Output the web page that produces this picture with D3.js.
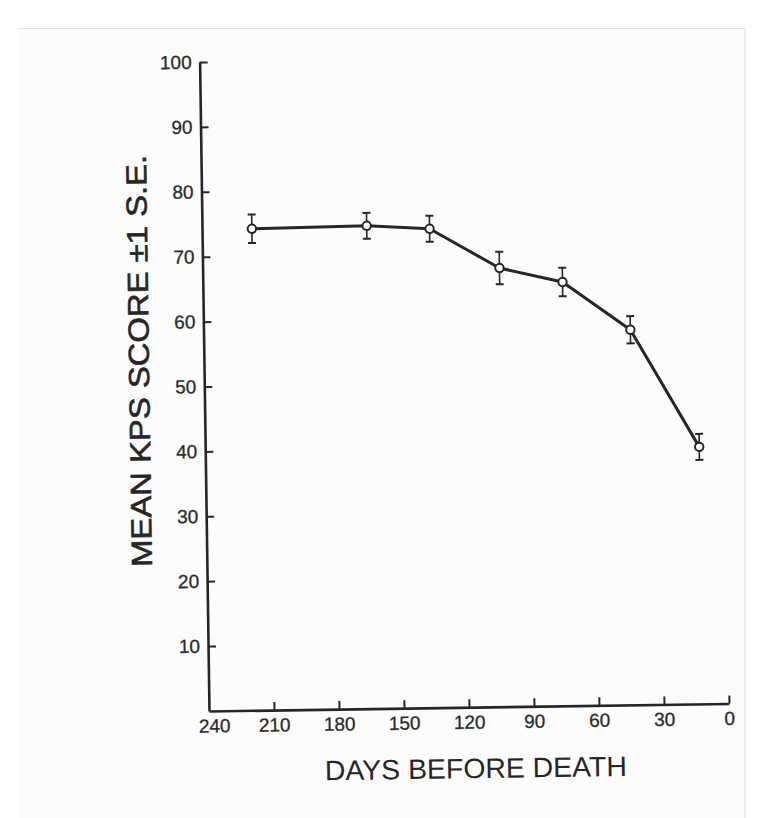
<!DOCTYPE html>
<html>
<head>
<meta charset="utf-8">
<script src="https://cdn.jsdelivr.net/npm/d3@7"></script>
<style>
  html, body { margin: 0; padding: 0; background: #ffffff; }
  svg { display: block; }
  .tick text { font-family: "Liberation Sans", Arial, sans-serif; font-size: 19px; fill: #2b2b2b; stroke: #2b2b2b; stroke-width: 0.3px; }
</style>
</head>
<body>
<div id="chart"></div>
<script>
// Mean KPS score by days before death, with ±1 S.E. bars
const daysBeforeDeath = [217, 164, 135, 103, 74, 43, 12];
const meanKps        = [74.2, 74.4, 73.8, 67.6, 65.3, 57.8, 39.6];
const stdError       = [2.2, 2.0, 2.0, 2.5, 2.2, 2.1, 2.0];
const xTicks = [240, 210, 180, 150, 120, 90, 60, 30, 0];
const yTicks = [10, 20, 30, 40, 50, 60, 70, 80, 90, 100];
const xTitle = "DAYS BEFORE DEATH";
const yTitle = "MEAN KPS SCORE \u00B11 S.E.";

const W = 768, H = 818;
const x0 = 209, x1 = 729, yBase = 711, yTop = 62;
const ink = "#262626";

const svg = d3.select("#chart").append("svg")
  .attr("width", W).attr("height", H);

// faint sheet: light paper with top and right edges
svg.append("rect").attr("x", 18).attr("y", 28).attr("width", 727).attr("height", 790)
  .attr("fill", "#fcfcfc");
svg.append("path").attr("d", "M18,28.5H745V818")
  .attr("fill", "none").attr("stroke", "#e2e2e2").attr("stroke-width", 1.2);

// the whole plate sits slightly tilted
const g = svg.append("g").attr("transform", `rotate(-0.83, ${x0}, ${yBase})`);

const x = d3.scaleLinear().domain([240, 0]).range([x0, x1]);
const y = d3.scaleLinear().domain([0, 100]).range([yBase, yTop]);

// y axis, ticks pointing into the plot
const yAxis = g.append("g").attr("transform", `translate(${x0},0)`)
  .call(d3.axisLeft(y).tickValues(yTicks).tickSizeInner(-8).tickSizeOuter(0).tickPadding(8));
yAxis.select(".domain").attr("stroke", ink).attr("stroke-width", 2.6);
yAxis.selectAll(".tick line").attr("stroke", ink).attr("stroke-width", 2);

// x axis, ticks pointing up
const xAxis = g.append("g").attr("transform", `translate(0,${yBase})`)
  .call(d3.axisBottom(x).tickValues(xTicks).tickSizeInner(-8).tickSizeOuter(0).tickPadding(8));
xAxis.select(".domain").attr("stroke", ink).attr("stroke-width", 2.6);
xAxis.selectAll(".tick line").attr("stroke", ink).attr("stroke-width", 2)
  .attr("display", d => d === 240 ? "none" : null);
xAxis.selectAll(".tick text").attr("dx", d => d === 240 ? 5 : 0);

const pts = daysBeforeDeath.map((d, i) => ({ d, v: meanKps[i], se: stdError[i] }));

// connecting line
g.append("path").datum(pts)
  .attr("fill", "none").attr("stroke", ink).attr("stroke-width", 3)
  .attr("stroke-linejoin", "round")
  .attr("d", d3.line().x(p => x(p.d)).y(p => y(p.v)));

// error bars
const eb = g.append("g").attr("stroke", ink).attr("stroke-width", 1.6);
pts.forEach(p => {
  const cx = x(p.d), yHi = y(p.v + p.se), yLo = y(p.v - p.se);
  eb.append("line").attr("x1", cx).attr("x2", cx).attr("y1", yHi).attr("y2", yLo);
  eb.append("line").attr("x1", cx - 4).attr("x2", cx + 4).attr("y1", yHi).attr("y2", yHi).attr("stroke-width", 2);
  eb.append("line").attr("x1", cx - 4).attr("x2", cx + 4).attr("y1", yLo).attr("y2", yLo).attr("stroke-width", 2);
});

// open circle markers
g.append("g").selectAll("circle").data(pts).join("circle")
  .attr("cx", p => x(p.d)).attr("cy", p => y(p.v)).attr("r", 4.2)
  .attr("fill", "#ffffff").attr("stroke", ink).attr("stroke-width", 2);

// axis titles
g.append("text")
  .attr("x", (x0 + x1) / 2 + 6).attr("y", 782)
  .attr("text-anchor", "middle")
  .attr("font-family", "Liberation Sans, Arial, sans-serif").attr("font-size", 28)
  .attr("textLength", 302).attr("lengthAdjust", "spacingAndGlyphs")
  .attr("fill", ink)
  .text(xTitle);

g.append("text")
  .attr("transform", `translate(154, 360) rotate(-90)`)
  .attr("text-anchor", "middle")
  .attr("font-family", "Liberation Sans, Arial, sans-serif").attr("font-size", 29)
  .attr("textLength", 412).attr("lengthAdjust", "spacingAndGlyphs")
  .attr("fill", ink).attr("stroke", ink).attr("stroke-width", 0.6)
  .text(yTitle);
</script>
</body>
</html>
